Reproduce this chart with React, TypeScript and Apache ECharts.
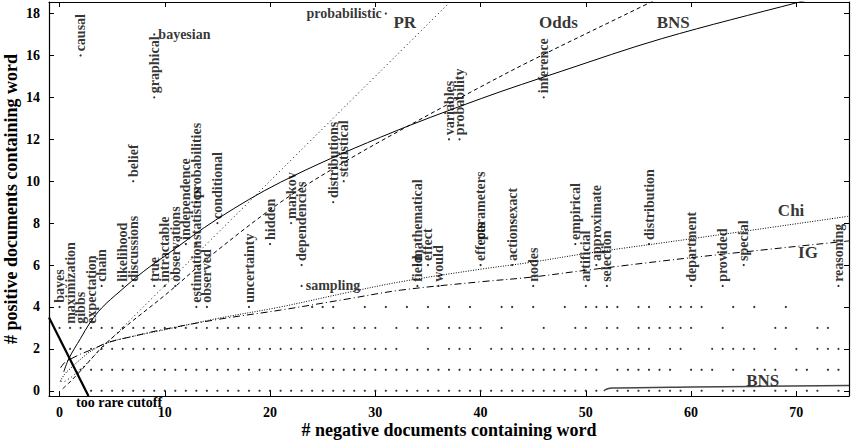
import React, { useEffect, useRef } from "react";
import * as echarts from "echarts";

const FONT = '"Liberation Serif", "Times New Roman", serif';

const xTicks = [0, 10, 20, 30, 40, 50, 60, 70];
const yTicks = [0, 2, 4, 6, 8, 10, 12, 14, 16, 18];

// words drawn with their names: negative-document count, positive-document count
const wordNames = [
  "bayes", "maximization", "gibbs", "expectation", "chain", "likelihood", "discussions",
  "true", "intractable", "observations", "independence", "estimation", "statistics",
  "probabilities", "observed", "conditional", "uncertainty", "hidden", "markov",
  "dependencies", "distributions", "statistical", "field", "mathematical", "effect",
  "would", "effects", "parameters", "actions", "exact", "nodes", "empirical",
  "artificial", "approximate", "selection", "distribution", "department", "provided",
  "special", "reasoning", "causal", "graphical", "belief", "variables", "probability",
  "inference", "bayesian", "sampling", "probabilistic",
];
const wordNeg = [
  0, 1, 2, 3, 4, 6, 7,
  9, 10, 11, 12, 13, 13,
  13, 14, 15, 18, 20, 22,
  23, 26, 27, 34, 34, 35,
  36, 40, 40, 43, 43, 45, 49,
  50, 51, 52, 56, 60, 63,
  65, 74, 2, 9, 7, 37, 38,
  46, 9, 23, 31,
];
const wordPos = [
  4, 3, 3, 3, 5, 5, 5,
  5, 5, 5, 7, 4, 7,
  9, 4, 8, 4, 7, 8,
  6, 9, 10, 5, 6, 6,
  5, 6, 7, 6, 8, 5, 7,
  5, 6, 5, 7, 5, 5,
  6, 5, 16, 14, 10, 12, 12,
  14, 17, 5, 18,
];
const wordsLabelledRight = ["bayesian", "sampling"];
const wordsLabelledLeft = ["probabilistic"];

// unlabelled words: negative-document counts for each positive-document count
const negAtPos0 = [3, 4, 5, 6, 7, 8, 9, 10, 11, 12, 13, 14, 15, 16, 17, 18, 19, 20, 21, 22, 23, 24, 25, 26, 27, 28, 29, 30, 31, 32, 33, 34, 35, 36, 37, 38, 39, 40, 41, 42, 43, 44, 45, 46, 47, 48, 49, 50, 51, 53, 54, 55, 56, 57, 58, 59, 61, 63, 64, 65, 66, 68, 69, 71, 72, 74];
const negAtPos1 = [2, 3, 4, 5, 6, 7, 8, 9, 10, 11, 12, 13, 14, 15, 16, 17, 18, 19, 20, 21, 22, 23, 24, 25, 26, 27, 28, 29, 30, 31, 32, 33, 34, 35, 36, 37, 38, 39, 40, 41, 42, 43, 44, 45, 46, 47, 48, 49, 50, 51, 53, 54, 55, 56, 57, 58, 60, 61, 62, 64, 66, 67, 68, 70, 71, 73, 74];
const negAtPos2 = [1, 2, 3, 4, 5, 6, 7, 8, 9, 10, 11, 12, 13, 14, 15, 16, 17, 18, 19, 20, 21, 22, 23, 24, 25, 26, 27, 28, 29, 30, 31, 32, 35, 37, 38, 39, 41, 42, 43, 44, 45, 46, 47, 48, 49, 50, 51, 52, 53, 54, 55, 56, 58, 59, 62, 63, 64, 65, 66, 68, 70, 72, 73, 74];
const negAtPos3 = [0, 4, 5, 6, 7, 8, 9, 10, 11, 12, 13, 14, 15, 16, 17, 18, 19, 20, 21, 22, 23, 25, 26, 28, 29, 30, 32, 34, 35, 37, 38, 39, 40, 42, 46, 49, 50, 52, 53, 55, 56, 57, 58, 59, 60, 63, 68, 69, 72, 73];
const negAtPos4 = [24, 25, 26, 29, 31, 33, 35, 37, 39, 42, 43, 45, 48, 50, 51, 52, 53, 55, 56, 58, 59, 60, 61, 64, 66, 69];

// isoclines of each feature-selection metric
const curvePR = [[0.1, 0.45], [0.5, 0.45], [1, 0.6], [2, 1.02], [4.6, 2.32], [37.4, 18.7]];
const curveOdds = [[0.3, 0.1], [0.85, 0.35], [2, 0.95], [4.6, 2.35], [10.35, 4.7], [15, 6.7], [21.3, 9.1], [27, 10.9], [33, 12.6], [40, 14.5], [45, 15.8], [55.8, 18.45], [57, 18.75]];
const curveBNS = [[0.4, 0.9], [0.9, 1.55], [2, 2.5], [2.9, 3.25], [4, 3.95], [5.75, 4.75], [8, 5.7], [10.2, 6.5], [15, 8.2], [21, 9.95], [30.5, 12.1], [40.1, 13.95], [47.7, 15.25], [57.2, 16.8], [70.3, 18.55], [72, 18.75]];
const curveChi = [[0.05, 0.45], [0.5, 0.8], [1, 1.05], [2, 1.5], [3, 1.9], [4.6, 2.3], [7, 2.6], [9.6, 2.87], [15, 3.45], [21, 4.0], [27, 4.65], [32.4, 5.2], [40, 5.8], [44.8, 6.13], [50, 6.55], [60, 7.25], [75, 8.33]];
const curveIG = [[0.1, 1.1], [0.5, 1.35], [1, 1.5], [2, 1.75], [3, 1.95], [4.6, 2.3], [7, 2.6], [9.6, 2.9], [15, 3.4], [21, 3.85], [27, 4.35], [32.4, 4.8], [40, 5.2], [44.8, 5.42], [50, 5.75], [60, 6.35], [75, 7.15]];
const curveBNSLow = [[51.7, 0.0], [52, 0.08], [52.5, 0.13], [60, 0.18], [75, 0.25]];
const rareCutoff = [[-1, 3.5], [2.75, -0.25]];

// curve names and where they sit
const tagNames = ["PR", "Odds", "BNS", "Chi", "IG", "BNS"];
const tagNeg = [32.8, 47.4, 58.3, 69.5, 71.1, 66.8];
const tagPos = [17.58, 17.58, 17.55, 8.58, 6.61, 0.47];

const boldText = { fontFamily: FONT, fontWeight: "bold" as const, color: "#000" };

function buildOption() {
  const unlabelled: number[][] = [];
  [negAtPos0, negAtPos1, negAtPos2, negAtPos3, negAtPos4].forEach((row, pos) =>
    row.forEach((neg) => unlabelled.push([neg, pos]))
  );

  const wordData = wordNames.map((name, i) => {
    let label: any = undefined;
    if (wordsLabelledRight.includes(name)) {
      label = { position: "right", rotate: 0, align: "left", verticalAlign: "middle", distance: 3 };
    } else if (wordsLabelledLeft.includes(name)) {
      label = { position: "left", rotate: 0, align: "right", verticalAlign: "middle", distance: 3 };
    }
    return { name, value: [wordNeg[i], wordPos[i]], label };
  });

  const tagData = tagNames.map((name, i) => ({ name, value: [tagNeg[i], tagPos[i]] }));

  const axisLine = { show: true, onZero: false, lineStyle: { color: "#000", width: 1.2 } };
  const tick = (vals: number[]) => ({
    show: true,
    inside: true,
    length: 5,
    customValues: vals,
    lineStyle: { color: "#000", width: 1 },
  });

  const line = (data: number[][], style: any, smooth: number | boolean = 0.35) => ({
    type: "line",
    data,
    smooth,
    showSymbol: false,
    symbol: "none",
    silent: true,
    lineStyle: { color: "#000", width: 1, ...style },
    z: 3,
  });

  return {
    animation: false,
    backgroundColor: "#fff",
    grid: { left: 49, right: 9, top: 2, bottom: 44, outerBoundsMode: "none", containLabel: false },
    xAxis: [
      {
        type: "value",
        min: -1,
        max: 75,
        position: "bottom",
        axisLine,
        axisTick: tick(xTicks),
        axisLabel: { customValues: xTicks, ...boldText, fontSize: 14, margin: 9 },
        splitLine: { show: false },
        name: "# negative documents containing word",
        nameLocation: "middle",
        nameGap: 25,
        nameMoveOverlap: false,
        nameTextStyle: { ...boldText, fontSize: 18 },
      },
      {
        type: "value",
        min: -1,
        max: 75,
        position: "top",
        axisLine,
        axisTick: tick(xTicks),
        axisLabel: { show: false },
        splitLine: { show: false },
      },
    ],
    yAxis: [
      {
        type: "value",
        min: -0.25,
        max: 18.55,
        position: "left",
        axisLine,
        axisTick: tick(yTicks),
        axisLabel: { customValues: yTicks, ...boldText, fontSize: 14, margin: 9 },
        splitLine: { show: false },
        name: "# positive documents containing word",
        nameLocation: "middle",
        nameGap: 29,
        nameMoveOverlap: false,
        nameRotate: 90,
        nameTextStyle: { ...boldText, fontSize: 18 },
      },
      {
        type: "value",
        min: -0.25,
        max: 18.55,
        position: "right",
        axisLine,
        axisTick: tick(yTicks),
        axisLabel: { show: false },
        splitLine: { show: false },
      },
    ],
    series: [
      {
        type: "scatter",
        data: unlabelled,
        symbol: "circle",
        symbolSize: 2.2,
        itemStyle: { color: "#000" },
        silent: true,
        z: 2,
      },
      {
        type: "scatter",
        data: wordData,
        symbol: "circle",
        symbolSize: 2.2,
        itemStyle: { color: "#000" },
        silent: true,
        z: 4,
        label: {
          show: true,
          formatter: "{b}",
          position: "top",
          rotate: 90,
          align: "left",
          verticalAlign: "middle",
          distance: 3,
          ...boldText,
          fontSize: 14,
        },
      },
      line(curvePR, { type: [1, 3] }, false),
      line(curveOdds, { type: [4, 3] }),
      line(curveBNS, { type: "solid" }),
      line(curveChi, { type: [1, 1.5] }),
      line(curveIG, { type: [7, 3, 1, 3] }),
      line(curveBNSLow, { type: "solid", color: "#444", width: 1.5 }),
      line(rareCutoff, { type: "solid", width: 2.2 }, false),
      {
        type: "scatter",
        data: tagData,
        symbolSize: 0,
        itemStyle: { color: "transparent" },
        silent: true,
        z: 5,
        label: {
          show: true,
          formatter: "{b}",
          position: "inside",
          ...boldText,
          fontSize: 17,
        },
      },
    ],
    graphic: [
      {
        type: "text",
        x: 76,
        y: 402,
        z: 10,
        style: {
          text: "too rare cutoff",
          fill: "#000",
          font: `bold 14px ${FONT}`,
          align: "left",
          verticalAlign: "middle",
        },
      },
    ],
  };
}

export default function App() {
  const ref = useRef<HTMLDivElement>(null);
  useEffect(() => {
    document.body.style.margin = "0";
    const chart = echarts.init(ref.current!, null, { renderer: "svg" });
    chart.setOption(buildOption() as any);
    return () => chart.dispose();
  }, []);
  return <div ref={ref} style={{ width: 858, height: 440 }} />;
}
